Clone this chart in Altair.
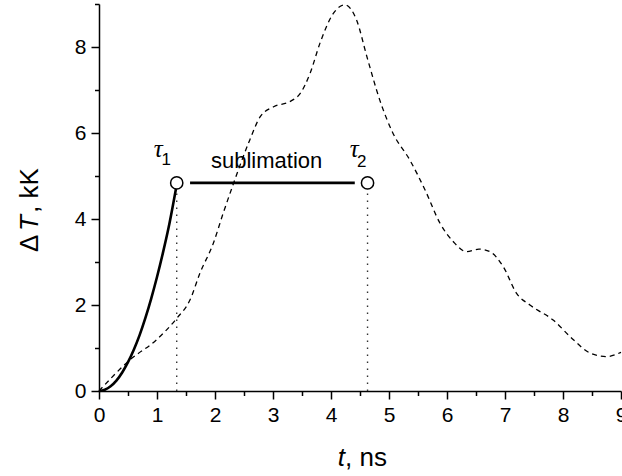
import altair as alt
import pandas as pd

# dashed curve
dash_t = [0, 0.53, 0.99, 1.34, 1.57, 1.74, 1.97, 2.14, 2.32, 2.60, 2.78, 3.01, 3.29, 3.47,
          3.64, 3.81, 4.04, 4.24, 4.44, 4.62, 4.84, 5.07, 5.36, 5.62, 5.88, 6.11, 6.34,
          6.55, 6.74, 6.97, 7.20, 7.43, 7.83, 8.18, 8.47, 8.75, 9.0]
dash_T = [0, 0.72, 1.19, 1.69, 2.12, 2.74, 3.43, 4.13, 4.83, 5.84, 6.38, 6.61, 6.73, 6.92,
          7.39, 8.09, 8.78, 8.98, 8.63, 7.77, 6.77, 5.99, 5.37, 4.68, 3.90, 3.47, 3.24,
          3.30, 3.24, 2.89, 2.27, 2.00, 1.65, 1.19, 0.88, 0.80, 0.90]

# solid heating curve
solid_t = [0, 0.1, 0.2, 0.3, 0.4, 0.5, 0.6, 0.7, 0.8, 0.9, 1.0, 1.1, 1.2, 1.34]
solid_T = [0, 0.03, 0.11, 0.24, 0.43, 0.67, 0.96, 1.30, 1.70, 2.15, 2.65, 3.20, 3.80, 4.80]

# tau markers
tau_t = [1.34, 4.63]
tau_T = [4.84, 4.84]
tau_glyph = ["τ", "τ"]
tau_glyph_t = [1.02, 4.40]
tau_glyph_T = [5.45, 5.45]
tau_sub = ["1", "2"]
tau_sub_t = [1.16, 4.53]
tau_sub_T = [5.26, 5.22]

# sublimation plateau
subl_t = [1.57]
subl_t2 = [4.41]
subl_T = [4.84]
subl_label = ["sublimation"]
subl_label_t = [2.89]
subl_label_T = [5.19]

x_major = list(range(10))
x_minor = [i + 0.5 for i in range(9)]
y_major = [0, 2, 4, 6, 8]
y_minor = [1, 3, 5, 7, 9]

FONT = "Liberation Sans"
W, H = 522, 387

xs = alt.Scale(domain=[0, 9], nice=False, zero=False)
ys = alt.Scale(domain=[0, 9], nice=False, zero=False)

common = dict(title=None, grid=False, domainColor="black", domainWidth=1.5,
              tickColor="black", tickWidth=1.5)

x_axis = alt.Axis(values=x_major, tickSize=8, format="d", labelFont=FONT, labelFontSize=21,
                  labelColor="black", labelPadding=5, labelFlush=False, labelOverlap=False,
                  orient="bottom", **common)
y_axis = alt.Axis(values=y_major, tickSize=8, format="d", labelFont=FONT, labelFontSize=21,
                  labelColor="black", labelPadding=5, labelFlush=False, labelOverlap=False,
                  orient="left", **common)
x_axis_minor = alt.Axis(values=x_minor, tickSize=4.5, labels=False, domain=False,
                        orient="bottom", title=None, grid=False, tickColor="black", tickWidth=1.5)
y_axis_minor = alt.Axis(values=y_minor, tickSize=4.5, labels=False, domain=False,
                        orient="left", title=None, grid=False, tickColor="black", tickWidth=1.5)

dash_df = pd.DataFrame({"t": dash_t, "T": dash_T})
solid_df = pd.DataFrame({"t": solid_t, "T": solid_T})
tau_df = pd.DataFrame({"t": tau_t, "T": tau_T, "T0": [0, 0]})
glyph_df = pd.DataFrame({"t": tau_glyph_t, "T": tau_glyph_T, "txt": tau_glyph})
sub_df = pd.DataFrame({"t": tau_sub_t, "T": tau_sub_T, "txt": tau_sub})
subl_df = pd.DataFrame({"t": subl_t, "t2": subl_t2, "T": subl_T})
subl_lab_df = pd.DataFrame({"t": subl_label_t, "T": subl_label_T, "txt": subl_label})

dashed = alt.Chart(dash_df).mark_line(color="black", strokeWidth=1.3, strokeDash=[5, 4],
                                      interpolate="monotone").encode(
    x=alt.X("t:Q", scale=xs, axis=x_axis), y=alt.Y("T:Q", scale=ys, axis=y_axis))

solid = alt.Chart(solid_df).mark_line(color="black", strokeWidth=2.6,
                                      interpolate="monotone").encode(
    x=alt.X("t:Q", scale=xs, axis=x_axis_minor), y=alt.Y("T:Q", scale=ys, axis=y_axis_minor))

dotted = alt.Chart(tau_df).mark_rule(color="#333333", strokeWidth=1.4, strokeDash=[1.5, 5.5]).encode(
    x=alt.X("t:Q", scale=xs, axis=None), y=alt.Y("T0:Q", scale=ys, axis=None), y2="T:Q")

plateau = alt.Chart(subl_df).mark_rule(color="black", strokeWidth=2.6).encode(
    x=alt.X("t:Q", scale=xs, axis=None), x2="t2:Q", y=alt.Y("T:Q", scale=ys, axis=None))

circles = alt.Chart(tau_df).mark_point(shape="circle", size=150, fill="white", stroke="black",
                                       strokeWidth=1.5, opacity=1, fillOpacity=1).encode(
    x=alt.X("t:Q", scale=xs, axis=None), y=alt.Y("T:Q", scale=ys, axis=None))

glyphs = alt.Chart(glyph_df).mark_text(font="Liberation Serif", fontStyle="italic", fontSize=25,
                                       color="black", align="center", baseline="alphabetic").encode(
    x=alt.X("t:Q", scale=xs, axis=None), y=alt.Y("T:Q", scale=ys, axis=None), text="txt:N")

subs = alt.Chart(sub_df).mark_text(font=FONT, fontSize=17, color="black", align="center",
                                   baseline="alphabetic").encode(
    x=alt.X("t:Q", scale=xs, axis=None), y=alt.Y("T:Q", scale=ys, axis=None), text="txt:N")

subl_text = alt.Chart(subl_lab_df).mark_text(font=FONT, fontSize=22, color="black", align="center",
                                             baseline="alphabetic").encode(
    x=alt.X("t:Q", scale=xs, axis=None), y=alt.Y("T:Q", scale=ys, axis=None), text="txt:N")

# axis titles (mixed italic / upright)
TS = 26
xt1 = alt.Chart(pd.DataFrame({"a": [0]})).mark_text(
    text="t", font=FONT, fontStyle="italic", fontSize=TS, color="black",
    align="right", baseline="alphabetic").encode(x=alt.value(246), y=alt.value(462))
xt2 = alt.Chart(pd.DataFrame({"a": [0]})).mark_text(
    text=", ns", font=FONT, fontSize=TS, color="black",
    align="left", baseline="alphabetic").encode(x=alt.value(246), y=alt.value(462))
yt1 = alt.Chart(pd.DataFrame({"a": [0]})).mark_text(
    text="Δ", font=FONT, fontSize=TS, color="black", angle=270,
    align="left", baseline="alphabetic").encode(x=alt.value(-61), y=alt.value(248))
yt2 = alt.Chart(pd.DataFrame({"a": [0]})).mark_text(
    text="T", font=FONT, fontStyle="italic", fontSize=TS, color="black", angle=270,
    align="left", baseline="alphabetic").encode(x=alt.value(-61), y=alt.value(227))
yt3 = alt.Chart(pd.DataFrame({"a": [0]})).mark_text(
    text=", kK", font=FONT, fontSize=TS, color="black", angle=270,
    align="left", baseline="alphabetic").encode(x=alt.value(-61), y=alt.value(209))

chart = alt.layer(dashed, solid, dotted, plateau, circles, glyphs, subs, subl_text,
                  xt1, xt2, yt1, yt2, yt3).resolve_axis(
    x="independent", y="independent"
).properties(
    width=W, height=H,
    autosize=alt.AutoSizeParams(type="none"),
    padding={"left": 99, "top": 4, "right": 1, "bottom": 85},
    background="white",
).configure_view(stroke=None)

chart.save("out.html", embed_options={"renderer": "svg", "actions": False})
